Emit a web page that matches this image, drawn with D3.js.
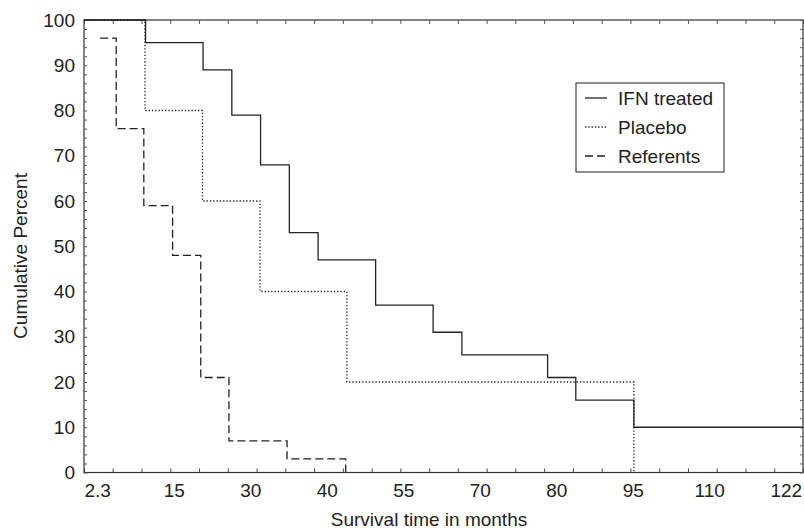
<!DOCTYPE html>
<html>
<head>
<meta charset="utf-8">
<script src="https://cdn.jsdelivr.net/npm/d3@7"></script>
<style>
  body { margin: 0; background: #fff; }
  svg { display: block; font-family: "Liberation Sans", Arial, sans-serif; }
</style>
</head>
<body>
<svg id="chart" width="804" height="532"></svg>
<script>
// survival curves (months, cumulative percent)
const ifnTimes = [0, 10.7, 20.7, 25.7, 30.7, 35.7, 40.7, 50.7, 60.7, 65.7, 80.6, 85.5, 95.6, 125];
const ifnValues = [100, 95, 89, 79, 68, 53, 47, 37, 31, 26, 21, 16, 10, 10];

const placeboTimes = [0, 10.6, 20.6, 30.6, 45.7, 95.6];
const placeboValues = [100, 80, 60, 40, 20, 0];

const refTimes = [2.8, 5.6, 10.4, 15.4, 20.3, 25.2, 35.3, 45.5];
const refValues = [96, 76, 59, 48, 21, 7, 3, 0];

const xTickLabels = ["2.3", "15", "30", "40", "55", "70", "80", "95", "110", "122"];
const yTicks = [0, 10, 20, 30, 40, 50, 60, 70, 80, 90, 100];

const series = [
  { name: "IFN treated", times: ifnTimes, values: ifnValues, dash: null },
  { name: "Placebo", times: placeboTimes, values: placeboValues, dash: "1.3,2" },
  { name: "Referents", times: refTimes, values: refValues, dash: "8,4" }
];

const svg = d3.select("#chart");
const ink = "#222";

const x = d3.scaleLinear().domain([0, 125]).range([84, 803]);
const y = d3.scaleLinear().domain([0, 100]).range([472.5, 20]);

// frame
svg.append("rect")
  .attr("x", x(0))
  .attr("y", y(100))
  .attr("width", x(125) - x(0))
  .attr("height", y(0) - y(100))
  .attr("fill", "none")
  .attr("stroke", "#333")
  .attr("stroke-width", 1.2);

// small inward ticks on all four sides
const xMinor = d3.range(0, 126, 5);
const yMinor = d3.range(0, 101, 2);

svg.append("g")
  .attr("transform", `translate(0,${y(0)})`)
  .call(d3.axisBottom(x).tickValues(xMinor).tickSize(-4).tickFormat(""))
  .call(g => g.select(".domain").remove())
  .selectAll("line").attr("stroke", "#444");

svg.append("g")
  .attr("transform", `translate(0,${y(100)})`)
  .call(d3.axisTop(x).tickValues(xMinor).tickSize(-4).tickFormat(""))
  .call(g => g.select(".domain").remove())
  .selectAll("line").attr("stroke", "#555");

svg.append("g")
  .attr("transform", `translate(${x(0)},0)`)
  .call(d3.axisLeft(y).tickValues(yMinor).tickSize(-3).tickFormat(""))
  .call(g => g.select(".domain").remove())
  .selectAll("line").attr("stroke", "#555");

svg.append("g")
  .attr("transform", `translate(${x(125)},0)`)
  .call(d3.axisRight(y).tickValues(yMinor).tickSize(-3).tickFormat(""))
  .call(g => g.select(".domain").remove())
  .selectAll("line").attr("stroke", "#666");

// y labels
svg.append("g")
  .attr("transform", `translate(${x(0)},0)`)
  .call(d3.axisLeft(y).tickValues(yTicks).tickSize(0).tickPadding(9))
  .call(g => g.select(".domain").remove())
  .selectAll("text")
  .attr("font-size", "19px")
  .attr("font-family", "Liberation Sans, Arial, sans-serif")
  .attr("fill", ink);

// x labels, evenly spaced from 2.3 to 122
const step = (122 - 2.3) / (xTickLabels.length - 1);
const xLabelPos = xTickLabels.map((d, i) => 2.3 + i * step);
svg.append("g")
  .attr("transform", `translate(0,${y(0)})`)
  .call(d3.axisBottom(x).tickValues(xLabelPos).tickSize(0).tickPadding(11)
    .tickFormat((d, i) => xTickLabels[i]))
  .call(g => g.select(".domain").remove())
  .selectAll("text")
  .attr("font-size", "19px")
  .attr("font-family", "Liberation Sans, Arial, sans-serif")
  .attr("fill", ink);

// curves
const line = d3.line()
  .x(d => x(d[0]))
  .y(d => y(d[1]))
  .curve(d3.curveStepAfter);

svg.append("g")
  .selectAll("path")
  .data(series)
  .enter().append("path")
  .attr("d", s => line(s.times.map((t, i) => [t, s.values[i]])))
  .attr("fill", "none")
  .attr("stroke", ink)
  .attr("stroke-width", 1.3)
  .attr("stroke-dasharray", s => s.dash);

// axis titles
svg.append("text")
  .attr("transform", "rotate(-90)")
  .attr("x", -256)
  .attr("y", 27)
  .attr("text-anchor", "middle")
  .attr("font-size", "19px")
  .attr("fill", ink)
  .text("Cumulative Percent");

svg.append("text")
  .attr("x", 429)
  .attr("y", 526)
  .attr("text-anchor", "middle")
  .attr("font-size", "19px")
  .attr("fill", ink)
  .text("Survival time in months");

// legend
const legend = svg.append("g").attr("transform", "translate(576,83)");
legend.append("rect")
  .attr("width", 148)
  .attr("height", 89)
  .attr("fill", "#fff")
  .attr("stroke", "#333")
  .attr("stroke-width", 1.1);

const item = legend.selectAll("g.item")
  .data(series)
  .enter().append("g")
  .attr("class", "item")
  .attr("transform", (d, i) => `translate(0,${15 + i * 29})`);

item.append("line")
  .attr("x1", 9)
  .attr("x2", 31)
  .attr("stroke", ink)
  .attr("stroke-width", 1.3)
  .attr("stroke-dasharray", d => d.dash);

item.append("text")
  .attr("x", 42)
  .attr("y", 7)
  .attr("font-size", "19px")
  .attr("fill", ink)
  .text(d => d.name);
</script>
</body>
</html>
